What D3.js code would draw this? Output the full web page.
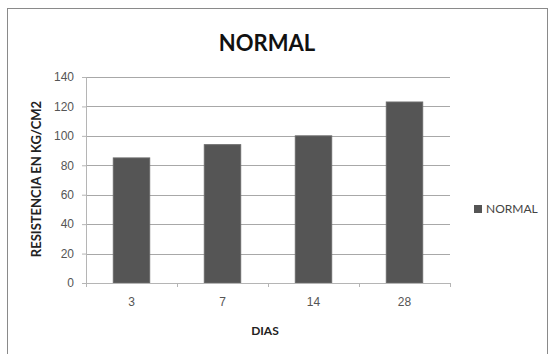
<!DOCTYPE html>
<html>
<head>
<meta charset="utf-8">
<script src="https://cdn.jsdelivr.net/npm/d3@7"></script>
<style>
  body { margin: 0; background: #fff; }
  svg { font-family: Lato, "Open Sans", sans-serif; }
  .y.axis text, .x.axis text { fill: #555; font-size: 12px; }
</style>
</head>
<body>
<div id="chart"></div>
<script>
// data
var dias = ["3", "7", "14", "28"];
var normal = [85, 94, 100, 123];
var yTicks = [0, 20, 40, 60, 80, 100, 120, 140];
var seriesName = "NORMAL";

var W = 551, H = 354;
var margin = {top: 77, left: 86, right: 101, bottom: 71};
var width = W - margin.left - margin.right,
    height = H - margin.top - margin.bottom;

var svg = d3.select("#chart").append("svg")
  .attr("width", W)
  .attr("height", H);

// outer frame
svg.append("rect")
  .attr("x", 7.5).attr("y", 8.5)
  .attr("width", 540).attr("height", 360)
  .attr("fill", "#fff")
  .attr("stroke", "#8a8a8a");

var g = svg.append("g")
  .attr("transform", "translate(" + margin.left + "," + margin.top + ")");

var x = d3.scaleBand()
  .domain(dias)
  .range([0, width])
  .paddingInner(0.6)
  .paddingOuter(0.3);

var y = d3.scaleLinear()
  .domain([0, 140])
  .range([height, 0]);

// grid lines
g.selectAll(".grid")
  .data(yTicks.filter(function(d) { return d > 0; }))
  .enter().append("line")
  .attr("class", "grid")
  .attr("x1", 0).attr("x2", width)
  .attr("y1", function(d) { return Math.round(y(d)) + 0.5; })
  .attr("y2", function(d) { return Math.round(y(d)) + 0.5; })
  .attr("stroke", "#a8a8a8");

// bars
g.selectAll(".bar")
  .data(normal)
  .enter().append("rect")
  .attr("class", "bar")
  .attr("x", function(d, i) { return x(dias[i]); })
  .attr("width", x.bandwidth())
  .attr("y", function(d) { return y(d); })
  .attr("height", function(d) { return height - y(d); })
  .attr("fill", "#555")
  .attr("stroke", "#6a6a6a");

// y axis
var yAxis = d3.axisLeft(y).tickValues(yTicks).tickSize(4).tickPadding(8);
g.append("g").attr("class", "y axis").call(yAxis)
  .call(function(s) {
    s.select(".domain").attr("stroke", "#b5b5b5");
    s.selectAll(".tick line").attr("stroke", "#b5b5b5");
  });

// x axis, ticks sit between the categories
var xAxis = d3.axisBottom(x).tickSize(0).tickPadding(14);
g.append("g").attr("class", "x axis")
  .attr("transform", "translate(0," + height + ")")
  .call(xAxis)
  .call(function(s) {
    s.select(".domain").attr("stroke", "#b5b5b5");
  });

var step = x.step();
var x0 = x(dias[0]) - step * x.paddingInner() / 2;
g.selectAll(".xsep")
  .data(d3.range(dias.length + 1))
  .enter().append("line")
  .attr("class", "xsep")
  .attr("x1", function(i) { return Math.round(x0 + i * step) + 0.5; })
  .attr("x2", function(i) { return Math.round(x0 + i * step) + 0.5; })
  .attr("y1", height).attr("y2", height + 4)
  .attr("stroke", "#b5b5b5");

// title
svg.append("text")
  .attr("x", 267).attr("y", 51)
  .attr("text-anchor", "middle")
  .attr("font-size", "22px")
  .attr("font-weight", "bold")
  .attr("fill", "#111")
  .text("NORMAL");

// axis titles
svg.append("text")
  .attr("x", 265)
  .attr("y", 335)
  .attr("text-anchor", "middle")
  .attr("font-size", "12px")
  .attr("font-weight", "bold")
  .attr("fill", "#222")
  .text("DIAS");

svg.append("text")
  .attr("transform", "translate(41," + 179 + ") rotate(-90)")
  .attr("text-anchor", "middle")
  .attr("font-size", "13px")
  .attr("font-weight", "bold")
  .attr("fill", "#222")
  .text("RESISTENCIA EN KG/CM2");

// legend
var legend = svg.append("g").attr("transform", "translate(474,205)");
legend.append("rect")
  .attr("width", 8).attr("height", 8)
  .attr("fill", "#555");
legend.append("text")
  .attr("x", 12).attr("y", 8)
  .attr("font-size", "12px")
  .attr("fill", "#444")
  .text(seriesName);
</script>
</body>
</html>
